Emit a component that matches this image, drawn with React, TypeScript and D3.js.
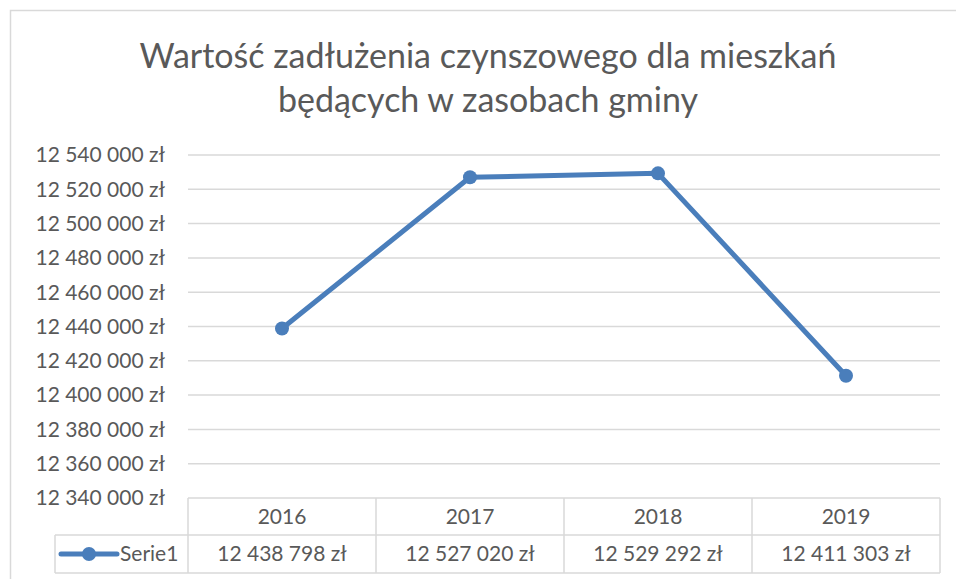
import React from "react";
import * as d3 from "d3";

const categories = ["2016", "2017", "2018", "2019"];
const values = [12438798, 12527020, 12529292, 12411303];
const seriesName = "Serie1";
const yTicks = [12340000, 12360000, 12380000, 12400000, 12420000, 12440000, 12460000, 12480000, 12500000, 12520000, 12540000];
const titleLines = ["Wartość zadłużenia czynszowego dla mieszkań", "będących w zasobach gminy"];

const fmt = (v: number) => {
  const s = Math.round(v).toString();
  return s.replace(/\B(?=(\d{3})+(?!\d))/g, " ") + " zł";
};

export default function App() {
  const W = 956, H = 579;
  const left = 188, right = 940, top = 155, bottom = 498;
  const row1 = 535, row2 = 573, legendLeft = 55;
  const font = "Lato, 'Open Sans', sans-serif";
  const textColor = "#595959";
  const gridColor = "#d9d9d9";
  const lineColor = "#4a7ebb";
  const fs = 21;

  const x = d3.scaleBand<string>().domain(categories).range([left, right]).padding(0);
  const y = d3.scaleLinear().domain([12340000, 12540000]).range([bottom, top]);
  const cx = (c: string) => (x(c) as number) + x.bandwidth() / 2;
  const line = d3.line<number>().x((_, i) => cx(categories[i])).y((d) => y(d));

  const bounds = [...categories.map((c) => x(c) as number), right];

  return (
    <svg width={W} height={H} style={{ position: "absolute", left: 0, top: 0, background: "#fff" }}>
      <rect x={10.5} y={10.5} width={960} height={600} fill="#fff" stroke={gridColor} strokeWidth={1.5} />
      {titleLines.map((t, i) => (
        <text key={i} x={488} y={68 + i * 44} textAnchor="middle" fontFamily={font} fontSize={34} fill={textColor}>
          {t}
        </text>
      ))}
      {yTicks.map((t) => (
        <g key={t}>
          {t !== 12340000 && (
            <line x1={left} x2={right} y1={y(t)} y2={y(t)} stroke={gridColor} strokeWidth={1.5} />
          )}
          <text x={165} y={y(t)} dy="0.35em" textAnchor="end" fontFamily={font} fontSize={fs} fill={textColor}>
            {fmt(t)}
          </text>
        </g>
      ))}
      {/* data table */}
      <g stroke={gridColor} strokeWidth={1.5} fill="none">
        <line x1={left} x2={right} y1={bottom} y2={bottom} />
        <line x1={legendLeft} x2={right} y1={row1} y2={row1} />
        <line x1={legendLeft} x2={right} y1={row2} y2={row2} />
        <line x1={legendLeft} x2={legendLeft} y1={row1} y2={row2} />
        {bounds.map((b, i) => (
          <line key={i} x1={b} x2={b} y1={bottom} y2={row2} />
        ))}
      </g>
      {categories.map((c, i) => (
        <g key={c}>
          <text x={cx(c)} y={(bottom + row1) / 2} dy="0.35em" textAnchor="middle" fontFamily={font} fontSize={fs} fill={textColor}>
            {c}
          </text>
          <text x={cx(c)} y={(row1 + row2) / 2} dy="0.35em" textAnchor="middle" fontFamily={font} fontSize={fs} fill={textColor}>
            {fmt(values[i])}
          </text>
        </g>
      ))}
      {/* legend key */}
      <line x1={61} x2={117} y1={(row1 + row2) / 2} y2={(row1 + row2) / 2} stroke={lineColor} strokeWidth={5} strokeLinecap="round" />
      <circle cx={89} cy={(row1 + row2) / 2} r={7} fill={lineColor} />
      <text x={120} y={(row1 + row2) / 2} dy="0.35em" fontFamily={font} fontSize={fs} fill={textColor}>
        {seriesName}
      </text>
      {/* series */}
      <path d={line(values) || ""} fill="none" stroke={lineColor} strokeWidth={5} strokeLinejoin="round" strokeLinecap="round" />
      {values.map((v, i) => (
        <circle key={i} cx={cx(categories[i])} cy={y(v)} r={7} fill={lineColor} />
      ))}
    </svg>
  );
}
